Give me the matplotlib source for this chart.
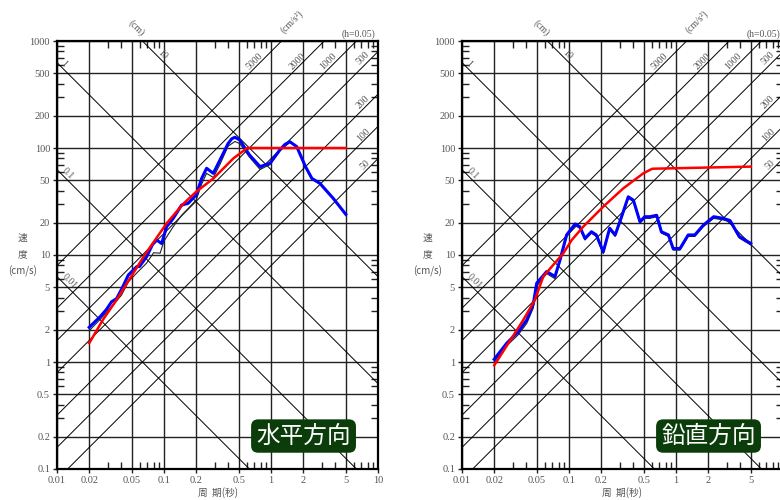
import numpy as np
import matplotlib.pyplot as plt

plt.rcParams['font.family'] = ['Liberation Serif', 'Noto Sans CJK JP']

# ---- horizontal (水平方向) ----
h_red_T = [0.02, 0.027, 0.036, 0.066, 0.106, 0.151, 0.2, 0.29, 0.445, 0.6, 5]
h_red_v = [1.5, 2.5, 3.8, 10, 19.8, 30, 39, 52, 80, 100, 100]

h_blue_T = [0.02, 0.0253, 0.029, 0.0324, 0.036, 0.041, 0.0464, 0.0557, 0.059, 0.0688,
            0.078, 0.0855, 0.095, 0.106, 0.122, 0.146, 0.168, 0.2, 0.225, 0.25, 0.289,
            0.333, 0.397, 0.43, 0.46, 0.51, 0.57, 0.63, 0.79, 0.98, 1.21, 1.35, 1.5,
            1.74, 2.1, 2.41, 2.86, 3.8, 5]
h_blue_v = [2.11, 2.65, 3.1, 3.66, 3.9, 5.0, 6.5, 7.8, 7.8, 9.64,
            12.5, 13.8, 12.8, 18.4, 22, 29.3, 30.4, 36.4, 52, 64.6, 58,
            77, 110, 122, 126, 119, 100, 86, 67, 72, 96, 108, 114.5,
            103, 67, 52, 46.8, 34, 24]

h_blk_T = [0.02, 0.0253, 0.0324, 0.04, 0.0464, 0.0557, 0.0688, 0.08, 0.092, 0.1,
           0.122, 0.146, 0.17, 0.2, 0.225, 0.25, 0.289, 0.333, 0.397, 0.46, 0.51,
           0.63, 0.79, 0.98, 1.21, 1.5, 1.74, 2.1, 2.41, 2.86, 3.8, 5]
h_blk_v = [1.96, 2.5, 3.3, 4.2, 5.6, 6.8, 8.4, 10.5, 10.4, 13.5,
           18.4, 23.5, 27.5, 32.7, 46, 58, 53, 70, 104, 115, 110,
           82, 63, 70, 94, 113, 102, 66, 51, 46, 33.5, 23.7]

# ---- vertical (鉛直方向) ----
v_red_T = [0.02, 0.0374, 0.048, 0.0575, 0.0886, 0.106, 0.136, 0.209, 0.322, 0.495, 0.6, 5]
v_red_v = [0.93, 2.47, 3.8, 6.3, 10.4, 13.8, 18.4, 28.3, 42, 58, 64, 67]

v_blue_T = [0.02, 0.0262, 0.0336, 0.0403, 0.0464, 0.0499, 0.0618, 0.074, 0.0824, 0.095,
            0.114, 0.126, 0.141, 0.162, 0.18, 0.209, 0.24, 0.27, 0.31, 0.358, 0.4,
            0.46, 0.51, 0.57, 0.66, 0.73, 0.85, 0.94, 1.09, 1.3, 1.5, 1.8, 2.25,
            2.76, 3.2, 3.9, 5]
v_blue_v = [1.06, 1.5, 1.92, 2.47, 3.5, 5.45, 7, 6.3, 9, 15.4,
            19.5, 18.4, 14.3, 16.5, 15.4, 10.7, 17.8, 15.4, 22.8, 35, 32.5,
            20.5, 22.8, 22.8, 23.5, 16.5, 15.4, 11.5, 11.5, 15.4, 15.4, 19, 22.8,
            22, 21, 14.9, 12.8]

v_blk_T = v_blue_T
v_blk_v = [1.0, 1.42, 1.8, 2.3, 3.2, 5.1, 6.7, 6.0, 8.6, 14.8,
           18.8, 17.8, 13.8, 16.0, 14.9, 10.3, 17.2, 14.9, 22.0, 34, 31.5,
           19.8, 22.0, 22.0, 22.7, 16.0, 14.9, 11.1, 11.1, 14.9, 14.9, 18.4, 22.0,
           21.3, 20.3, 14.4, 12.4]

# chart furniture
x_major = [0.01, 0.02, 0.05, 0.1, 0.2, 0.5, 1, 2, 5, 10]
x_labels_h = ['0.01', '0.02', '0.05', '0.1', '0.2', '0.5', '1', '2', '5', '10']
x_labels_v = ['0.01', '0.02', '0.05', '0.1', '0.2', '0.5', '1', '2', '5', '']
y_major = [0.1, 0.2, 0.5, 1, 2, 5, 10, 20, 50, 100, 200, 500, 1000]
y_labels = ['0.1', '0.2', '0.5', '1', '2', '5', '10', '20', '50', '100', '200', '500', '1000']
minor_mult = [3, 4, 6, 7, 8, 9]
disp_lines = [0.01, 0.1, 1, 10]                       # cm
acc_lines = [50, 100, 200, 500, 1000, 2000, 5000]     # cm/s2

GRAY = '#555555'


def draw_panel(ax, red, blue, blk, title, xlabels):
    ax.set_xscale('log')
    ax.set_yscale('log')
    ax.set_xlim(0.01, 10)
    ax.set_ylim(0.1, 1000)

    ax.set_xticks(x_major)
    ax.set_xticklabels(xlabels)
    ax.set_yticks(y_major)
    ax.set_yticklabels(y_labels)
    ax.set_xticks([m * d for d in [0.01, 0.1, 1] for m in minor_mult], minor=True)
    ax.set_yticks([m * d for d in [0.1, 1, 10, 100] for m in minor_mult], minor=True)
    ax.xaxis.set_minor_formatter(plt.NullFormatter())
    ax.yaxis.set_minor_formatter(plt.NullFormatter())
    ax.tick_params(which='minor', direction='in', length=5, width=1,
                   top=True, right=True, color='#222222')
    ax.tick_params(which='major', direction='out', length=3, width=1,
                   labelsize=7.5, labelcolor=GRAY, color='#222222', pad=2)
    ax.grid(which='major', color='#222222', lw=1.0)
    for s in ax.spines.values():
        s.set_linewidth(1.6)

    T = np.array([0.01, 10])
    for d in disp_lines:
        ax.plot(T, 2 * np.pi * d / T, color='k', lw=0.7, zorder=2)
    for a in acc_lines:
        ax.plot(T, a * T / (2 * np.pi), color='k', lw=0.7, zorder=2)

    ax.plot(blk[0], blk[1], color='#222222', lw=0.8, zorder=3)
    ax.plot(blue[0], blue[1], color='#0000ff', lw=2.2, zorder=4,
            solid_joinstyle='round')
    ax.plot(red[0], red[1], color='#ff0000', lw=1.8, zorder=5)

    tk = dict(transform=ax.transAxes, fontsize=7, color=GRAY,
              ha='center', va='center', clip_on=False)
    ax.text(0.248, 1.030, '(cm)', rotation=-45, **tk)
    ax.text(0.329, 0.967, '10', rotation=-45, **tk)
    ax.text(0.022, 0.946, '1', rotation=-45, **tk)
    ax.text(0.032, 0.691, '0.1', rotation=-45, **tk)
    ax.text(0.040, 0.438, '0.01', rotation=-45, **tk)
    ax.text(0.731, 1.045, '(cm/s²)', rotation=45, **tk)
    ax.text(0.939, 1.016, '(h=0.05)', **tk)
    for lab, fx, fy in [('5000', 0.617, 0.952), ('2000', 0.749, 0.952),
                        ('1000', 0.845, 0.952), ('500', 0.952, 0.960),
                        ('200', 0.954, 0.858), ('100', 0.954, 0.780),
                        ('50', 0.960, 0.710)]:
        ax.text(fx, fy, lab, rotation=45, **tk)

    cj = dict(transform=ax.transAxes, fontsize=7, color=GRAY, ha='center',
              va='center', family=['Noto Sans CJK JP'], clip_on=False)
    ax.text(-0.106, 0.541, '速', **cj)
    ax.text(-0.106, 0.502, '度', **cj)
    ax.text(-0.106, 0.462, '(cm/s)', **cj)
    ax.text(0.5, -0.056, '周  期(秒)', **cj)

    ax.text(0.768, 0.077, title, transform=ax.transAxes, fontsize=17,
            color='white', ha='center', va='center', family=['Noto Sans CJK JP'],
            zorder=10,
            bbox=dict(boxstyle='round,pad=0.22,rounding_size=0.3',
                      fc='#0b3d0b', ec='none'))


fig = plt.figure(figsize=(7.8, 5), dpi=100)
ax1 = fig.add_axes([57 / 780, 31 / 500, 321 / 780, 428 / 500])
ax2 = fig.add_axes([462 / 780, 31 / 500, 321 / 780, 428 / 500])

draw_panel(ax1, (h_red_T, h_red_v), (h_blue_T, h_blue_v), (h_blk_T, h_blk_v),
           '水平方向', x_labels_h)
draw_panel(ax2, (v_red_T, v_red_v), (v_blue_T, v_blue_v), (v_blk_T, v_blk_v),
           '鉛直方向', x_labels_v)

fig.savefig('out.png', dpi=100)
